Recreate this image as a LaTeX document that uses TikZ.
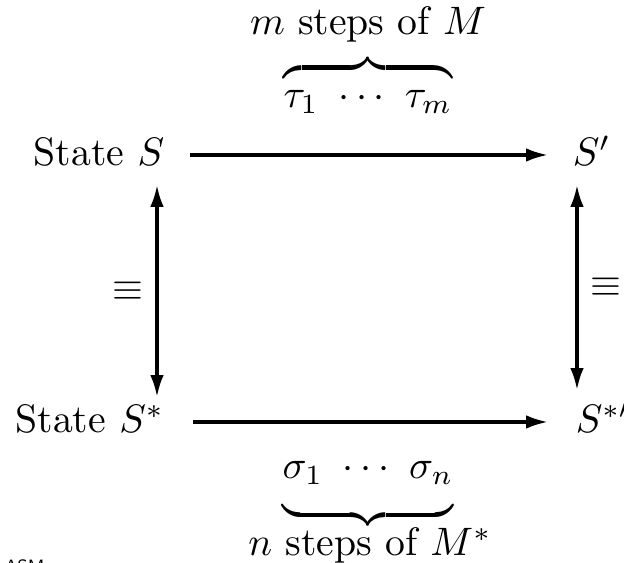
\documentclass[tikz,border=0pt]{standalone}
\usetikzlibrary{arrows.meta,calc}
\begin{document}
\begin{tikzpicture}[x=0.00885cm, y=-0.00885cm,
	txt/.style={inner sep=0pt},
	arr/.style={line width=0.8pt, -{Latex[length=5.5pt,width=3.4pt]}},
	darr/.style={line width=0.8pt, {Latex[length=5.5pt,width=3.4pt]}-{Latex[length=5.5pt,width=3.4pt]}}]
	\useasboundingbox (0,0) rectangle (624,563);
	\node[txt, anchor=base east](S) at (165,166){State $S$};
	\node[txt, anchor=base west](Sp) at (572,166){$S'$};
	\node[txt, anchor=base east](Ss) at (165,433){State $S^*$};
	\node[txt, anchor=base west](Ssp) at (575,433){$S^{*\prime}$};
	\node[txt, anchor=base](Mlab) at (368,35){$m$ steps of $M$};
	\node[txt, anchor=base](Taus) at (368,108){$\overbrace{\rule{0pt}{6.5pt}\tau_1\ \cdots\ \tau_m}$};
	\node[txt, anchor=base](Sigmas) at (368,479){$\underbrace{\rule[-5.5pt]{0pt}{5.5pt}\sigma_1\ \cdots\ \sigma_n}$};
	\node[txt, anchor=base](Nlab) at (370,556){$n$ steps of $M^*$};
	\node[txt, anchor=north west, font=\sffamily\fontsize{4.5}{5}\selectfont](Asm) at (4,559){ASM};
	\draw[arr] ($(S.base east)+(25,-11)$) -- ($(Sp.base west)+(-24,-11)$);
	\draw[arr] ($(Ss.base east)+(28,-11)$) -- ($(Ssp.base west)+(-27,-11)$);
	\draw[darr] ($(S.base east)+(-8,19)$) -- node[left, inner sep=3pt]{$\equiv$} ($(Ss.base east)+(-8,-36)$);
	\draw[darr] ($(Sp.base west)+(5,19)$) -- node[right, inner sep=3pt]{$\equiv$} ($(Ssp.base west)+(2,-43)$);
\end{tikzpicture}
\end{document}
